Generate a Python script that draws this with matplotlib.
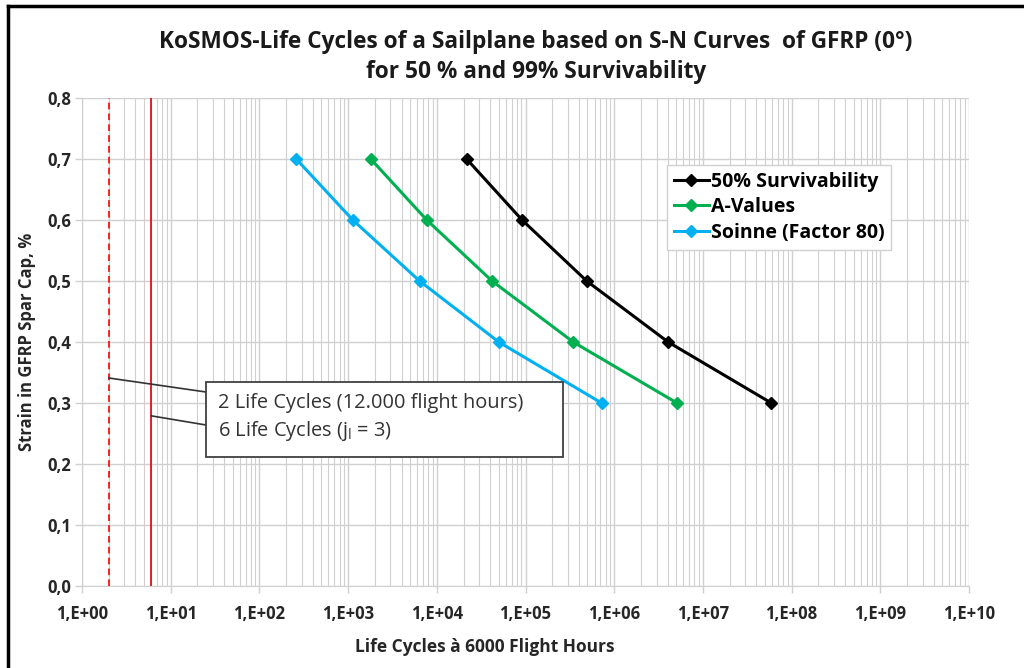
import math
import matplotlib
matplotlib.use("Agg")
import matplotlib.pyplot as plt
from matplotlib.ticker import LogLocator, FixedLocator, FuncFormatter, NullFormatter
from matplotlib.lines import Line2D
from matplotlib.patches import Rectangle

plt.rcParams['font.family'] = ['Open Sans', 'DejaVu Sans']
plt.rcParams['mathtext.fontset'] = 'custom'
plt.rcParams['mathtext.rm'] = 'Open Sans'
plt.rcParams['mathtext.it'] = 'Open Sans'

# Data
strain = [0.7, 0.6, 0.5, 0.4, 0.3]
cycles_50 = [2.17e4, 9.15e4, 4.9e5, 4.05e6, 5.9e7]
cycles_a = [1.8e3, 7.7e3, 4.2e4, 3.45e5, 5.1e6]
cycles_soinne = [2.6e2, 1.13e3, 6.4e3, 5.0e4, 7.2e5]
series_names = ["50% Survivability", "A-Values", "Soinne (Factor 80)"]
life_cycles_2 = 2
life_cycles_6 = 6
y_ticks = [0.0, 0.1, 0.2, 0.3, 0.4, 0.5, 0.6, 0.7, 0.8]
x_decades = [1e0, 1e1, 1e2, 1e3, 1e4, 1e5, 1e6, 1e7, 1e8, 1e9, 1e10]

W, H = 1024, 668
fig = plt.figure(figsize=(W / 100, H / 100), dpi=100)
ax = fig.add_axes([82 / W, 1 - 586 / H, (969 - 82) / W, (586 - 98) / H])

ax.set_xscale('log')
ax.set_xlim(1, 1e10)
ax.set_ylim(0, 0.8)

grid_c = '#d0d0d0'
ax.xaxis.set_major_locator(FixedLocator(x_decades))
ax.xaxis.set_minor_locator(LogLocator(base=10, subs=range(2, 10), numticks=100))
ax.xaxis.set_minor_formatter(NullFormatter())
ax.xaxis.set_major_formatter(FuncFormatter(lambda v, p: "1,E+%02d" % round(math.log10(v))))
ax.yaxis.set_major_locator(FixedLocator(y_ticks))
ax.yaxis.set_major_formatter(FuncFormatter(lambda v, p: ("%.1f" % v).replace('.', ',')))

ax.grid(True, which='major', color=grid_c, lw=1.0)
ax.grid(True, which='minor', axis='x', color=grid_c, lw=0.8)
for s in ax.spines.values():
    s.set_visible(False)
ax.spines['bottom'].set_visible(True)
ax.spines['bottom'].set_color(grid_c)
ax.spines['left'].set_visible(True)
ax.spines['left'].set_color(grid_c)
ax.tick_params(which='both', color=grid_c, length=5, width=1)
ax.tick_params(which='minor', length=0)
ax.tick_params(axis='x', labelsize=12, pad=9)
ax.tick_params(axis='y', labelsize=12, pad=3)
for lab in ax.get_xticklabels() + ax.get_yticklabels():
    lab.set_fontweight('bold')
    lab.set_color('#262626')

# Vertical life-cycle lines
ax.axvline(life_cycles_2, color='#ff0000', lw=1.2, ls=(0, (4, 2.5)))
ax.axvline(life_cycles_6, color='#e00000', lw=1.2)

colors = ['#000000', '#00b050', '#00b0f0']
for xs, c, name in zip([cycles_50, cycles_a, cycles_soinne], colors, series_names):
    ax.plot(xs, strain, color=c, lw=2.2, marker='D', ms=6, label=name, zorder=5)

leg = ax.legend(loc='upper left', bbox_to_anchor=((667 - 82) / (969 - 82), 1 - (165 - 98) / 488),
                frameon=True, fancybox=False, edgecolor='#d0d0d0', framealpha=1,
                prop={'weight': 'bold', 'size': 14}, handlelength=1.8, handletextpad=0.1,
                labelspacing=0.28, borderpad=0.35, borderaxespad=0)
leg.get_frame().set_linewidth(1.0)

ax.set_xlabel('Life Cycles à 6000 Flight Hours', fontsize=12.5, fontweight='bold', color='#262626')
ax.xaxis.set_label_coords((485 - 82) / (969 - 82), -(638 - 586) / 488)
ax.set_ylabel('Strain in GFRP Spar Cap, %', fontsize=12, fontweight='bold', color='#262626')
ax.yaxis.set_label_coords(-(82 - 36) / 887, 0.5)

fig.text(536 / W, 1 - 42 / H, 'KoSMOS-Life Cycles of a Sailplane based on S-N Curves  of GFRP (0°)',
         ha='center', va='center', fontsize=16.3, fontweight='bold', color='#1a1a1a')
fig.text(536 / W, 1 - 72 / H, 'for 50 % and 99% Survivability',
         ha='center', va='center', fontsize=16.3, fontweight='bold', color='#1a1a1a')

# Annotation box
box = Rectangle((206 / W, 1 - 457 / H), (563 - 206) / W, (457 - 382) / H, transform=fig.transFigure,
                facecolor='white', edgecolor='#404040', lw=1.3, zorder=10)
fig.add_artist(box)
fig.text(218 / W, 1 - 403 / H, '2 Life Cycles (12.000 flight hours)', ha='left', va='center',
         fontsize=14.4, color='#333333', zorder=11)
fig.text(218 / W, 1 - 431 / H, r'6 Life Cycles (j$_\mathregular{l}$ = 3)', ha='left', va='center',
         fontsize=14.4, color='#333333', zorder=11)

ax.annotate('', xy=(life_cycles_2, 0.341), xycoords='data', xytext=(206, H - 392),
            textcoords='figure pixels', arrowprops=dict(arrowstyle='-', color='#333333', lw=1.2,
                                                        shrinkA=0, shrinkB=0))
ax.annotate('', xy=(life_cycles_6, 0.279), xycoords='data', xytext=(206, H - 425),
            textcoords='figure pixels', arrowprops=dict(arrowstyle='-', color='#333333', lw=1.2,
                                                        shrinkA=0, shrinkB=0))

# Outer chart border (left and top)
fig.add_artist(Line2D([8 / W, 8 / W], [0, 1 - 6 / H], transform=fig.transFigure, color='black', lw=2.5))
fig.add_artist(Line2D([8 / W, 1], [1 - 6 / H, 1 - 6 / H], transform=fig.transFigure, color='black', lw=2.5))

fig.savefig('out.png', dpi=100)
